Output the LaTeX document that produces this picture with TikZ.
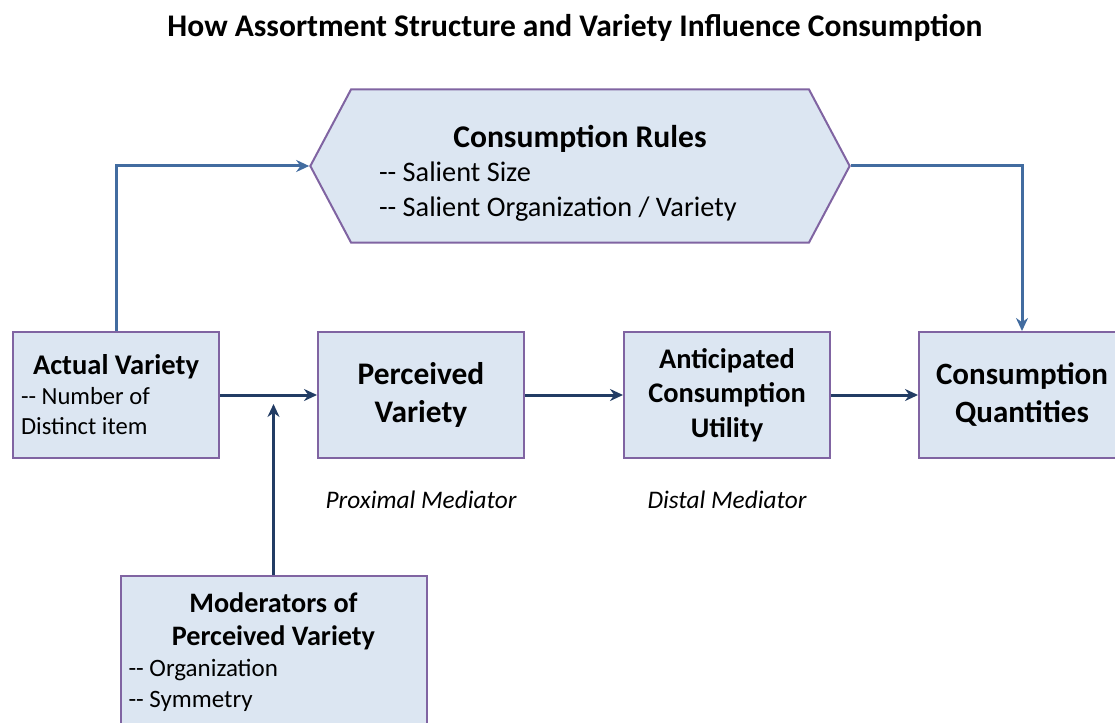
\documentclass[tikz,border=0pt]{standalone}
\usepackage{fontspec}
\setmainfont{Carlito}
\definecolor{boxfill}{RGB}{220,230,242}
\definecolor{boxline}{RGB}{128,100,162}
\definecolor{arrowblue}{RGB}{66,108,160}
\definecolor{arrownavy}{RGB}{34,60,100}
\usetikzlibrary{shapes,arrows.meta}
\tikzstyle{block} = [rectangle, draw=boxline, line width=2pt, fill=boxfill,
    text width=190pt, inner sep=8pt, minimum height=126pt,
    execute at begin node={\spaceskip=0pt\xspaceskip=0pt}]
\tikzstyle{rulebox} = [signal, signal to=west and east, signal pointer angle=124,
    draw=boxline, line width=2pt, fill=boxfill, minimum width=0pt, minimum height=153pt,
    text width=402pt, inner xsep=28pt, execute at begin node={\spaceskip=0pt\xspaceskip=0pt}]
\tikzstyle{line} = [draw=arrownavy, line width=3pt, -{Stealth[length=13pt,width=12pt]}]
\tikzstyle{ruleline} = [line, draw=arrowblue]

\begin{document}
\begin{tikzpicture}[x=1pt, y=-1pt, node distance=305pt]
  \useasboundingbox (0,0) rectangle (1115,722);
  \node (title) at (575,28) {\fontsize{31.5}{36}\selectfont\bfseries How Assortment Structure and Variety Influence Consumption};
  \node [rulebox] (rules) at (580,166) {{\centering\fontsize{31.6}{35}\selectfont\bfseries\rule{0pt}{36pt}Consumption Rules\par}\raggedright\fontsize{28.3}{34.5}\selectfont -{}- Salient Size\\-{}- Salient Organization / Variety\par};
  \node [block] (actual) at (116,395) {{\centering\fontsize{28.5}{30}\selectfont\bfseries Actual Variety\par}\raggedright\fontsize{24.6}{30}\selectfont -{}- Number of\\Distinct item\par\vspace{10pt}};
  \node [block, right of=actual] (perceived) {\centering\fontsize{31.4}{38}\selectfont\bfseries Perceived\\Variety\par\vspace{20pt}};
  \node [block, right of=perceived, node distance=306pt] (anticipated) {\centering\fontsize{28.4}{34.5}\selectfont\bfseries Anticipated\\Consumption\\Utility\par};
  \node [block, right of=anticipated, node distance=295pt] (quantities) {\centering\fontsize{31}{38}\selectfont\bfseries Consumption\\Quantities\par\vspace{20pt}};
  \node [block, text width=290pt, minimum height=152pt, anchor=north] (moderators) at (273.5,575) {{\centering\fontsize{28.2}{33}\selectfont\bfseries Moderators of\\Perceived Variety\par}\raggedright\fontsize{25}{31}\selectfont -{}- Organization\\-{}- Symmetry\par};
  \node [below of=perceived, node distance=105pt] (proximal) {\fontsize{25.3}{30}\selectfont\itshape Proximal Mediator};
  \node [below of=anticipated, node distance=105pt] (distal) {\fontsize{25.3}{30}\selectfont\itshape Distal Mediator};
  \coordinate (join) at (273.5,404);
  \path [ruleline] (actual.north) |- (rules.west);
  \path [ruleline] (rules.east) -| (quantities.north);
  \path [line] (actual) -- (perceived);
  \path [line] (moderators) -- (join);
  \path [line] (perceived) -- (anticipated);
  \path [line] (anticipated) -- (quantities);
\end{tikzpicture}
\end{document}
